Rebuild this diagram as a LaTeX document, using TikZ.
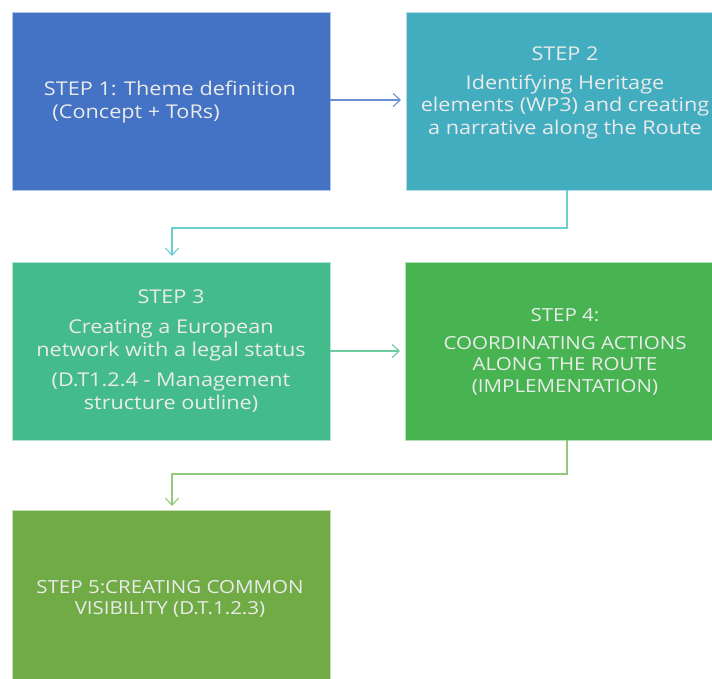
\documentclass[tikz,border=0pt]{standalone}
\usepackage{fontspec}
\setmainfont{Open Sans}[FakeStretch=1.14]
\usetikzlibrary{arrows.meta}
\definecolor{cA}{HTML}{4472C4}
\definecolor{cB}{HTML}{43ADC0}
\definecolor{cC}{HTML}{44BB8B}
\definecolor{cD}{HTML}{47B351}
\definecolor{cE}{HTML}{70AB46}
\definecolor{lA}{HTML}{6A8FD6}
\definecolor{lB}{HTML}{6ACFD2}
\definecolor{lC}{HTML}{6CCB9E}
\definecolor{lD}{HTML}{93C97A}
\tikzset{
  stepbox/.style={draw=white!60!#1, fill=#1, line width=0.8pt, minimum width=318pt, minimum height=178pt, inner sep=0pt, outer sep=0pt},
  steptext/.style={text=white!92!black, font=\fontsize{19}{22.5}\selectfont, align=center, inner sep=0pt},
  capstext/.style={steptext, font=\fontsize{18}{21.5}\selectfont},
  conn/.style={draw=#1, line width=1.1pt, -{Straight Barb[length=7pt,width=13pt,line width=1.1pt]}}
}
\begin{document}
\begin{tikzpicture}[x=1pt,y=-1pt]
\useasboundingbox (0,0) rectangle (712,678);
\fill[white] (0,0) rectangle (712,678);
\node[stepbox=cA, anchor=north west] (b1) at (12,12) {};
\node[stepbox=cB, anchor=north west, minimum width=310pt] (b2) at (406,12) {};
\node[stepbox=cC, anchor=north west] (b3) at (12,262) {};
\node[stepbox=cD, anchor=north west, minimum width=312pt] (b4) at (405,262) {};
\node[stepbox=cE, anchor=north west, minimum height=172pt] (b5) at (12,510) {};

\node[steptext, align=left] (t1) at (170,102) {STEP 1: Theme definition\\\hspace{0.45em}(Concept + ToRs)};
\node[steptext] (t2) at (565,93) {STEP 2\\[6pt]Identifying Heritage\\elements (WP3) and creating\\a narrative along the Route};
\node[steptext] (t3) at (171,351) {STEP 3\\[8pt]Creating a European\\network with a legal status\\[8pt](D.T1.2.4 - Management\\structure outline)};
\node[capstext] (t4) at (565,352) {STEP 4:\\[6pt]COORDINATING ACTIONS\\ALONG THE ROUTE\\(IMPLEMENTATION)};
\node[capstext] (t5) at (170,599) {STEP 5:CREATING COMMON\\VISIBILITY (D.T.1.2.3)};

\coordinate (k1) at (567,228);
\coordinate (k2) at (172,228);
\coordinate (k3) at (567,474);
\coordinate (k4) at (172,474);

\draw[conn=lA] (b1.east |- 0,100) -- (401,100);
\draw[conn=lB] (b2.south -| k1) -- (k1) -- (k2) -- (172,256);
\draw[conn=lC] (b3.east |- 0,351) -- (400,351);
\draw[conn=lD] (b4.south -| k3) -- (k3) -- (k4) -- (172,506);
\end{tikzpicture}
\end{document}
